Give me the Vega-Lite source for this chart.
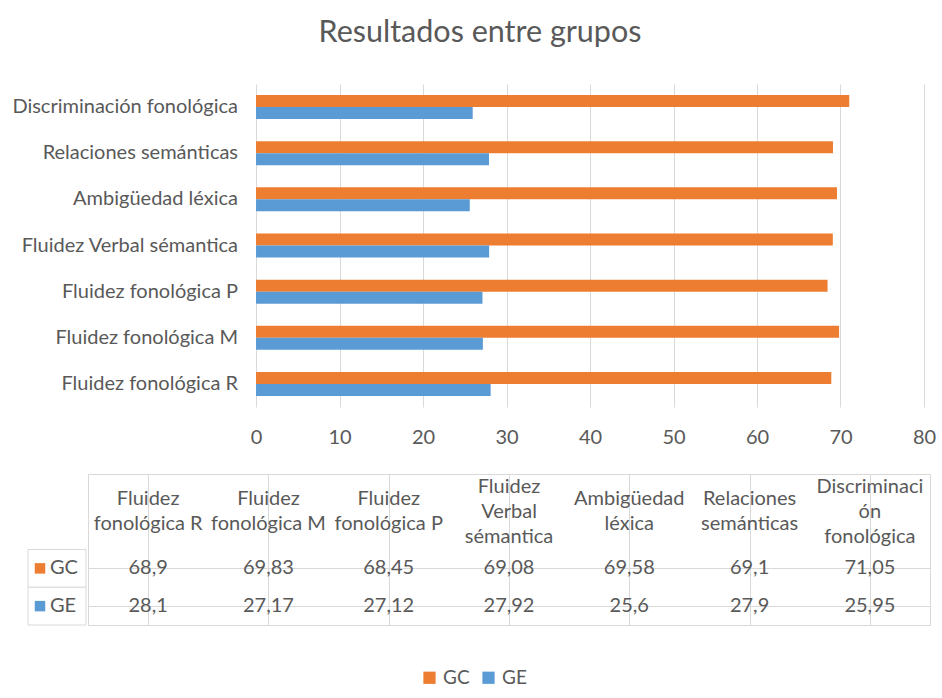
{
  "$schema": "https://vega.github.io/schema/vega-lite/v6.json",
  "padding": {"left": 12, "top": 17, "right": 10, "bottom": 10},
  "autosize": {"type": "pad"},
  "background": "white",
  "title": {"text": "Resultados entre grupos", "fontSize": 30.5, "font": "Lato", "fontWeight": "normal", "color": "#595959", "anchor": "middle", "dx": 6, "offset": 36},
  "datasets": {
    "results": [
      {"cat": "Fluidez fonológica R", "group": "GC", "value": 68.9},
      {"cat": "Fluidez fonológica R", "group": "GE", "value": 28.1},
      {"cat": "Fluidez fonológica M", "group": "GC", "value": 69.83},
      {"cat": "Fluidez fonológica M", "group": "GE", "value": 27.17},
      {"cat": "Fluidez fonológica P", "group": "GC", "value": 68.45},
      {"cat": "Fluidez fonológica P", "group": "GE", "value": 27.12},
      {"cat": "Fluidez Verbal sémantica", "group": "GC", "value": 69.08},
      {"cat": "Fluidez Verbal sémantica", "group": "GE", "value": 27.92},
      {"cat": "Ambigüedad léxica", "group": "GC", "value": 69.58},
      {"cat": "Ambigüedad léxica", "group": "GE", "value": 25.6},
      {"cat": "Relaciones semánticas", "group": "GC", "value": 69.1},
      {"cat": "Relaciones semánticas", "group": "GE", "value": 27.9},
      {"cat": "Discriminación fonológica", "group": "GC", "value": 71.05},
      {"cat": "Discriminación fonológica", "group": "GE", "value": 25.95}
    ],
    "cats": [
      {"cat": "Fluidez fonológica R", "header": "Fluidez\nfonológica R"},
      {"cat": "Fluidez fonológica M", "header": "Fluidez\nfonológica M"},
      {"cat": "Fluidez fonológica P", "header": "Fluidez\nfonológica P"},
      {"cat": "Fluidez Verbal sémantica", "header": "Fluidez\nVerbal\nsémantica"},
      {"cat": "Ambigüedad léxica", "header": "Ambigüedad\nléxica"},
      {"cat": "Relaciones semánticas", "header": "Relaciones\nsemánticas"},
      {"cat": "Discriminación fonológica", "header": "Discriminaci\nón\nfonológica"}
    ],
    "groups": [{"group": "GC"}, {"group": "GE"}]
  },
  "config": {
    "font": "Lato",
    "locale": {"number": {"decimal": ",", "thousands": ".", "grouping": [3], "currency": ["", " €"]}},
    "legend": {"layout": {"bottom": {"anchor": "middle"}}}
  },
  "spacing": 26,
  "resolve": {"scale": {"x": "independent", "y": "independent", "color": "shared"}, "legend": {"color": "shared"}},
  "vconcat": [
    {
      "width": 900,
      "height": 323,
      "view": {"stroke": null},
      "data": {"name": "results"},
      "encoding": {
        "y": {"field": "cat", "type": "nominal", "sort": ["Discriminación fonológica", "Relaciones semánticas", "Ambigüedad léxica", "Fluidez Verbal sémantica", "Fluidez fonológica P", "Fluidez fonológica M", "Fluidez fonológica R"], "scale": {"paddingInner": 0.48, "paddingOuter": 0.24}, "axis": null}
      },
      "layer": [
        {
          "mark": {"type": "bar"},
          "encoding": {
            "x": {"field": "value", "type": "quantitative", "stack": null, "scale": {"domain": [-27.31, 80.48], "nice": false, "zero": false}, "axis": {"values": [0, 10, 20, 30, 40, 50, 60, 70, 80], "grid": true, "gridColor": "#D9D9D9", "domain": false, "ticks": false, "labelFontSize": 20, "labelColor": "#595959", "labelPadding": 20, "title": null}},
            "yOffset": {"field": "group", "type": "nominal", "scale": {"domain": ["GC", "GE"], "paddingInner": 0, "paddingOuter": 0}},
            "color": {"field": "group", "type": "nominal", "scale": {"domain": ["GC", "GE"], "range": ["#ED7D31", "#5B9BD5"]}, "legend": {"orient": "bottom", "direction": "horizontal", "title": null, "symbolType": "square", "symbolSize": 150, "symbolStrokeWidth": 0, "labelFontSize": 19, "labelColor": "#595959", "offset": 42, "columnPadding": 9, "labelOffset": 4}}
          }
        },
        {
          "data": {"name": "cats"},
          "mark": {"type": "text", "align": "right", "baseline": "middle", "dx": -18, "fontSize": 20, "color": "#595959"},
          "encoding": {"x": {"datum": 0}, "text": {"field": "cat"}}
        }
      ]
    },
    {
      "spacing": 0,
      "resolve": {"scale": {"x": "independent", "y": "independent", "color": "shared"}, "legend": {"color": "shared"}},
      "hconcat": [
        {
          "width": 58,
          "height": 151,
          "view": {"stroke": null},
          "data": {"name": "groups"},
          "encoding": {"y": {"field": "group", "type": "nominal", "scale": {"domain": ["h1", "h2", "GC", "GE"], "paddingInner": 0, "paddingOuter": 0}, "axis": null}},
          "layer": [
            {"mark": {"type": "rect", "fill": "white", "stroke": "#D9D9D9", "strokeWidth": 1}},
            {"mark": {"type": "point", "shape": "square", "filled": true, "size": 110, "opacity": 1, "xOffset": -17}, "encoding": {"color": {"field": "group", "type": "nominal", "scale": {"domain": ["GC", "GE"], "range": ["#ED7D31", "#5B9BD5"]}}}},
            {"mark": {"type": "text", "align": "left", "baseline": "middle", "dx": -7, "fontSize": 20, "color": "#595959"}, "encoding": {"text": {"field": "group"}}}
          ]
        },
        {
          "width": 842,
          "height": 151,
          "view": {"stroke": "#D9D9D9", "strokeWidth": 1},
          "encoding": {
            "x": {"field": "cat", "type": "nominal", "sort": ["Fluidez fonológica R", "Fluidez fonológica M", "Fluidez fonológica P", "Fluidez Verbal sémantica", "Ambigüedad léxica", "Relaciones semánticas", "Discriminación fonológica"], "scale": {"paddingInner": 0, "paddingOuter": 0}, "axis": {"bandPosition": 0, "grid": true, "gridColor": "#D9D9D9", "labels": false, "ticks": false, "domain": false, "title": null}}
          },
          "layer": [
            {
              "data": {"name": "cats"},
              "transform": [{"filter": {"not": {"field": "cat", "oneOf": ["Fluidez Verbal sémantica", "Discriminación fonológica"]}}}],
              "mark": {"type": "text", "lineBreak": "\n", "fontSize": 20, "color": "#595959", "lineHeight": 24.5, "baseline": "middle", "dy": 6.5},
              "encoding": {
                "y": {"datum": "h1", "type": "nominal", "scale": {"domain": ["h1", "h2", "GC", "GE"], "paddingInner": 0, "paddingOuter": 0}, "axis": {"values": ["GC", "GE"], "bandPosition": 0, "grid": true, "gridColor": "#D9D9D9", "labels": false, "ticks": false, "domain": false, "title": null}},
                "text": {"field": "header"}
              }
            },
            {
              "data": {"name": "cats"},
              "transform": [{"filter": {"field": "cat", "oneOf": ["Fluidez Verbal sémantica", "Discriminación fonológica"]}}],
              "mark": {"type": "text", "lineBreak": "\n", "fontSize": 20, "color": "#595959", "lineHeight": 25, "baseline": "middle", "dy": -5.5},
              "encoding": {
                "y": {"datum": "h1", "type": "nominal", "scale": {"domain": ["h1", "h2", "GC", "GE"], "paddingInner": 0, "paddingOuter": 0}},
                "text": {"field": "header"}
              }
            },
            {
              "data": {"name": "results"},
              "mark": {"type": "text", "fontSize": 20, "color": "#595959", "baseline": "middle"},
              "encoding": {
                "y": {"field": "group", "type": "nominal", "scale": {"domain": ["h1", "h2", "GC", "GE"], "paddingInner": 0, "paddingOuter": 0}},
                "text": {"field": "value", "type": "quantitative", "format": ".6~g"}
              }
            }
          ]
        }
      ]
    }
  ]
}
